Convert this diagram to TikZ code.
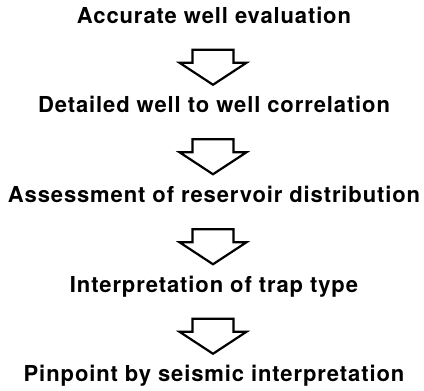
\documentclass[tikz,border=0pt]{standalone}
\usepackage{fontspec}
\setmainfont{TeX Gyre Heros}[LetterSpace=4]
\usetikzlibrary{calc}
\tikzset{
  step text/.style={anchor=base, inner sep=0pt, font=\fontsize{22}{26}\bfseries},
  pics/blockarrow/.style={code={
    \draw[line width=2.2pt, line join=miter, fill=white]
      (-20.5,17.75) -- (20.5,17.75) -- (20.5,4.75) -- (33.5,4.75) -- (0,-17.25)
      -- (-33.5,4.75) -- (-20.5,4.75) -- cycle;
  }}
}
\begin{document}
\begin{tikzpicture}[x=1pt, y=1pt]
	\useasboundingbox (0,0) rectangle (424,-391);
	\node[step text] (eval) at (214,-23) {Accurate well evaluation};
	\node[step text] (corr) at (214,-112) {Detailed well to well correlation};
	\node[step text] (dist) at (214,-202) {Assessment of reservoir distribution};
	\node[step text] (trap) at (214,-292) {Interpretation of trap type};
	\node[step text] (seis) at (214,-381) {Pinpoint by seismic interpretation};
	% hollow arrows between the steps
	\foreach \a/\b in {eval/corr, corr/dist, dist/trap, trap/seis}
		\pic at ($(\a.base)!0.5!(\b.base)+(-1,0)$) {blockarrow};
\end{tikzpicture}
\end{document}
